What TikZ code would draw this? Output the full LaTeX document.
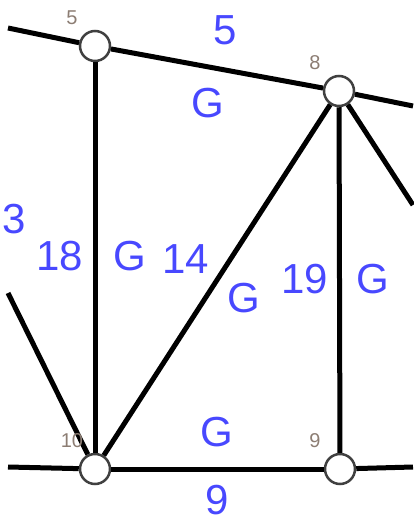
\documentclass[tikz,border=0pt]{standalone}
\usepackage{fontspec}
\setmainfont{Liberation Sans}
\definecolor{lblue}{RGB}{72,72,255}
\definecolor{nlab}{RGB}{140,125,115}
\begin{document}
\begin{tikzpicture}[x=1pt,y=-1pt,
 vtx/.style={circle,draw=black!75,line width=2.5pt,fill=white,minimum size=30pt,inner sep=0pt},
 edge/.style={line width=5pt,black},
 elab/.style={text=lblue,font=\fontsize{42}{42}\selectfont,inner sep=0pt},
 vlab/.style={text=nlab,font=\fontsize{20}{20}\selectfont,inner sep=0pt}]
\useasboundingbox (0,0) rectangle (413,522);
\node[vtx] (n5) at (95,46) {};
\node[vtx] (n8) at (339,91) {};
\node[vtx] (n10) at (95,469) {};
\node[vtx] (n9) at (340,469) {};
\coordinate (tl) at (8,28);
\coordinate (tr) at (413,106);
\coordinate (rd) at (413,205);
\coordinate (ld) at (8,293);
\coordinate (bl) at (8,467);
\coordinate (br) at (413,467);
\draw[edge] (tl) -- (n5);
\draw[edge] (n5) -- (n8);
\draw[edge] (n8) -- (tr);
\draw[edge] (n8) -- (rd);
\draw[edge] (n5) -- (n10);
\draw[edge] (n10) -- (n8);
\draw[edge] (n8) -- (n9);
\draw[edge] (ld) -- (n10);
\draw[edge] (bl) -- (n10);
\draw[edge] (n10) -- (n9);
\draw[edge] (n9) -- (br);
\node[vlab] (l5) at (72,18) {5};
\node[vlab] (l8) at (315,63) {8};
\node[vlab] (l10) at (72,441) {10};
\node[vlab] (l9) at (315,441) {9};
\node[elab] (e5) at (225,30) {5};
\node[elab] (g58) at (208,103) {G};
\node[elab] (e3) at (14,219) {3};
\node[elab] (e18) at (60,256) {18};
\node[elab] (g510) at (130,256) {G};
\node[elab] (e14) at (186,259) {14};
\node[elab] (g108) at (244,298) {G};
\node[elab] (e19) at (305,279) {19};
\node[elab] (g89) at (373,279) {G};
\node[elab] (g109) at (217,432) {G};
\node[elab] (e9) at (217,500) {9};
\end{tikzpicture}
\end{document}
